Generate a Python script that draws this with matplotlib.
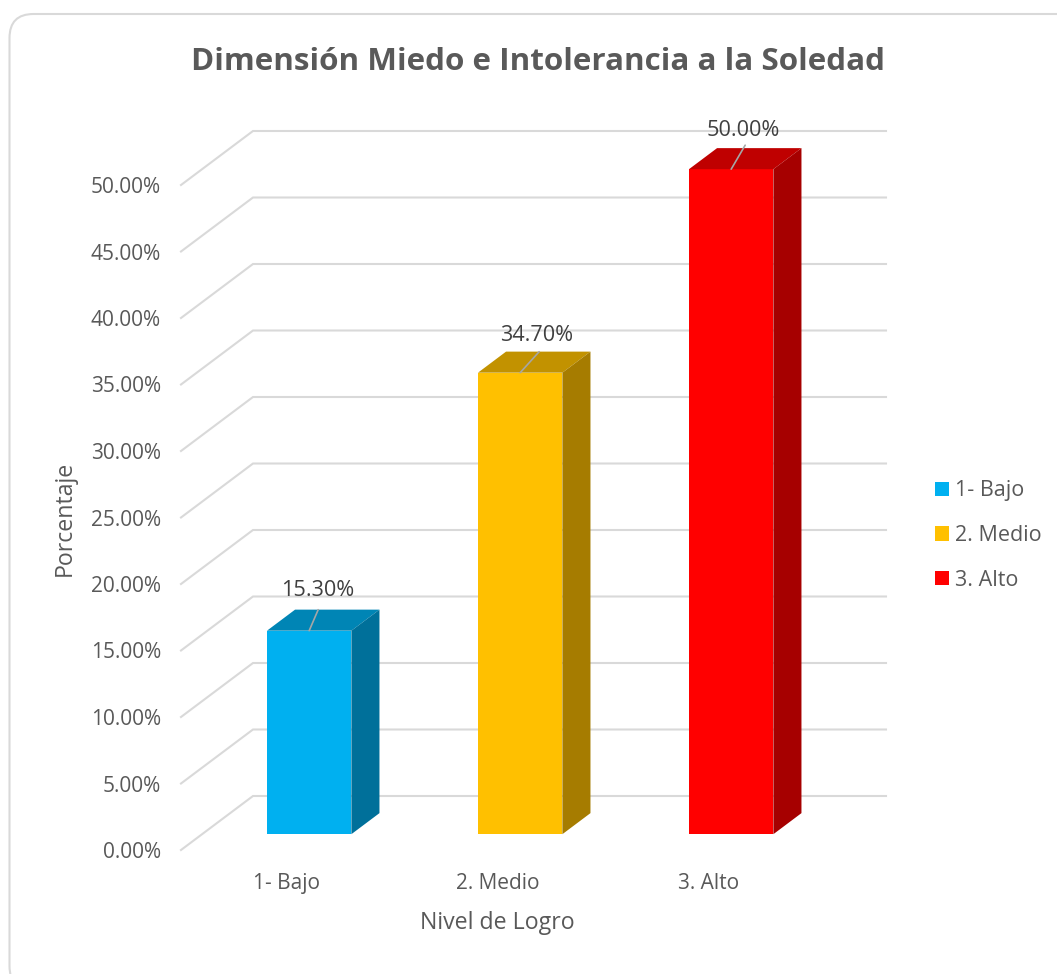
import matplotlib
matplotlib.use("Agg")
import matplotlib.pyplot as plt
from matplotlib.patches import FancyBboxPatch, Patch, Polygon

plt.rcParams['font.family'] = ['Open Sans', 'DejaVu Sans']

##############################
## Data
CATEGORIES = ['1- Bajo', '2. Medio', '3. Alto']
VALUES = [15.3, 34.7, 50.0]
VALUE_LABELS = ['15.30%', '34.70%', '50.00%']
YTICKS = [0, 5, 10, 15, 20, 25, 30, 35, 40, 45, 50]
YTICK_LABELS = ['0.00%', '5.00%', '10.00%', '15.00%', '20.00%', '25.00%',
                '30.00%', '35.00%', '40.00%', '45.00%', '50.00%']
FRONT = ['#00B0F0', '#FFC000', '#FF0000']
TOP = ['#0085B5', '#C29200', '#BF0000']
SIDE = ['#00709A', '#A67C00', '#A60000']

## Settings
W, H = 1057, 974
GRID = '#D9D9D9'
TEXT = '#595959'
# depth of the floor in data units (72 px across, 54 px up)
DEPTH_X = 72/211
DEPTH_Y = 54/13.3
BAR_W = 0.4
D0, D1 = 0.315, 0.705
# leader lines, in px from the top of the bar front
LEADER_X = [9, 19, 14]
LEADER_Y = [21, 21, 24]
LABEL_X = [9, 16, 12]
LABEL_Y = [40, 37, 39]

fig = plt.figure(figsize=(W/100, H/100), dpi=100)
fig.patch.set_facecolor('white')

# rounded chart frame, runs off the right and bottom of the picture
frame = FancyBboxPatch((9.5, H-990), 1080, 976, boxstyle='round,pad=0,rounding_size=24',
                       transform=None, fc='white', ec=GRID, lw=1.5, zorder=-5)
fig.patches.append(frame)
frame.set_figure(fig)

ax = fig.add_axes([181/W, 1-850/H, 633/W, 665/H])
ax.patch.set_visible(False)
ax.set_xlim(0, 3)
ax.set_ylim(0, 50)
for s in ax.spines.values():
    s.set_visible(False)

# grid: side wall and back wall
for v in YTICKS:
    ax.plot([0, DEPTH_X, 3+DEPTH_X], [v, v+DEPTH_Y, v+DEPTH_Y], c=GRID, lw=1.5,
            clip_on=False, zorder=1, solid_joinstyle='miter')

# bars
for i, v in enumerate(VALUES):
    x0 = i+0.5-BAR_W/2 + D0*DEPTH_X
    x1 = x0+BAR_W
    y0 = D0*DEPTH_Y - 0.09
    dx = (D1-D0)*DEPTH_X
    dy = (D1-D0)*DEPTH_Y
    ax.bar(x0, v, BAR_W, bottom=y0, align='edge', color=FRONT[i], clip_on=False, zorder=3)
    ax.add_patch(Polygon([(x0, y0+v), (x1, y0+v), (x1+dx, y0+v+dy), (x0+dx, y0+v+dy)],
                         fc=TOP[i], ec='none', clip_on=False, zorder=3))
    ax.add_patch(Polygon([(x1, y0), (x1+dx, y0+dy), (x1+dx, y0+v+dy), (x1, y0+v)],
                         fc=SIDE[i], ec='none', clip_on=False, zorder=3))
    # leader line and label
    xm = x0+BAR_W/2
    ax.annotate('', (xm, y0+v), xytext=(LEADER_X[i]*0.72, LEADER_Y[i]*0.72), textcoords='offset points',
                annotation_clip=False, zorder=4,
                arrowprops=dict(arrowstyle='-', color='#A6A6A6', lw=1.2, shrinkA=0, shrinkB=0))
    ax.annotate(VALUE_LABELS[i], (xm, y0+v), xytext=(LABEL_X[i]*0.72, LABEL_Y[i]*0.72), textcoords='offset points',
                ha='center', va='center', fontsize=15.6, color='#404040', zorder=5, annotation_clip=False)

ax.set_xticks([i+0.5 for i in range(len(CATEGORIES))])
ax.set_xticklabels(CATEGORIES)
ax.set_yticks(YTICKS)
ax.set_yticklabels(YTICK_LABELS)
ax.tick_params(axis='both', length=0, labelsize=15, labelcolor=TEXT)
ax.tick_params(axis='x', pad=16.5)
ax.tick_params(axis='y', pad=14.5)

fig.text(538/W, 1-62/H, 'Dimensión Miedo e Intolerancia a la Soledad', ha='center', va='center',
         fontsize=22.6, fontweight='bold', color=TEXT)
fig.text(497/W, 1-923/H, 'Nivel de Logro', ha='center', va='center', fontsize=16.7, color=TEXT)
fig.text(65/W, 1-518/H, 'Porcentaje', ha='center', va='center', rotation=90, fontsize=16.7, color=TEXT)

handles = [Patch(fc=c, ec='none') for c in FRONT]
fig.legend(handles, CATEGORIES, loc='center left', bbox_to_anchor=(928.5/W, 1-535.5/H), frameon=False,
           fontsize=15.5, labelcolor=TEXT, handlelength=0.66, handleheight=0.66, handletextpad=0.25,
           labelspacing=1.1, borderpad=0.3, borderaxespad=0)

fig.savefig('out.png', dpi=100)
